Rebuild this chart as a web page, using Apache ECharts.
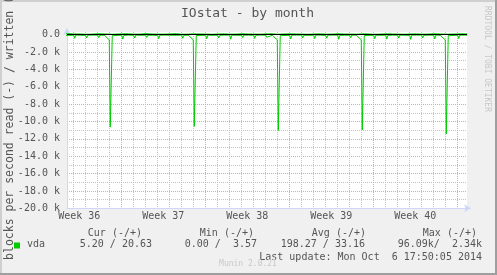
<!DOCTYPE html>
<html><head><meta charset="utf-8">
<script src="https://cdn.jsdelivr.net/npm/echarts@6/dist/echarts.min.js"></script>
<style>html,body{margin:0;padding:0;background:#f0f0f0}#c{width:497px;height:275px}</style>
</head><body><div id="c"></div><script>
// hours relative to Monday (start of Week 37) 00:00
const hours = [
-119,-117,-115,-106, -95,-93,-91,-82, -71,-69,-67,-58, -47,-45,-43,-34, -24,-22,-20,-18,
1,3,5,14, 25,27,29,38, 49,51,53,62, 73,75,77,86, 97,99,101,110, 121,123,125,134,
144,146,148,150, 169,171,173,182, 193,195,197,206, 217,219,221,230, 241,243,245,254,
265,267,269,278, 289,291,293,302, 312,314,316,318, 337,339,341,350, 361,363,365,374,
385,387,389,398, 409,411,413,422, 433,435,437,446, 457,459,461,470, 480,482,484,486,
505,507,509,518, 529,531,533,542, 553,555,557,566, 577,579,581,590, 601,603,605,614,
625,627,629,638, 648,650,652,654, 673,675,677,686, 692
];
// blocks per second read (drawn negative)
const readBlocks = [
60,80,70,90, 70,420,60,80, 90,380,70,60, 60,350,80,70, 600,10650,10650,120,
70,520,90,60, 80,400,60,90, 60,330,80,70, 90,470,70,60, 70,300,60,80, 60,420,90,70,
600,10580,10580,110, 80,480,60,90, 70,390,80,60, 60,530,70,80, 90,350,60,70,
70,440,80,60, 60,300,90,80, 600,11050,11050,120, 80,510,70,60, 60,380,80,90,
70,460,60,70, 90,420,70,60, 60,540,80,80, 70,360,60,70, 600,10980,10980,110,
80,470,70,90, 60,520,90,70, 70,400,60,80, 90,560,70,60, 60,380,80,70,
70,500,60,90, 600,11440,11440,120, 80,450,70,60, 70
];
// blocks per second written (drawn positive)
const writeBlocks = [
60,90,40,110, 80,140,50,70, 40,120,90,60, 100,160,50,80, 70,180,60,40,
90,130,40,100, 50,150,80,60, 110,90,40,70, 60,170,90,50, 80,120,60,110, 40,200,70,60,
90,140,50,80, 60,110,100,40, 70,160,50,90, 50,130,80,60, 100,150,40,70,
60,120,90,50, 80,180,60,100, 40,140,70,60, 90,110,50,80, 60,160,100,40,
70,130,60,90, 50,150,80,60, 100,120,40,70, 60,170,90,50, 80,140,60,100,
40,110,70,60, 90,160,50,80, 60,130,100,40, 70,150,60,90, 50,120,80,60,
100,180,40,70, 60,140,90,50, 80,110,60,100, 70
];
const weekLabels = ['Week 36','Week 37','Week 38','Week 39','Week 40'];
const weekMidHours = [-84,84,252,420,588];
const weekStartHours = [0,168,336,504,672];
const dayHours = [-96,-72,-48,-24,0,24,48,72,96,120,144,168,192,216,240,264,288,312,336,360,384,408,432,456,480,504,528,552,576,600,624,648,672];
const yTickValues = [-20000,-18000,-16000,-14000,-12000,-10000,-8000,-6000,-4000,-2000,0];
const yTickLabels = ['-20.0 k','-18.0 k','-16.0 k','-14.0 k','-12.0 k','-10.0 k','-8.0 k','-6.0 k','-4.0 k','-2.0 k','0.0'];
const yMinorValues = [-19000,-17000,-15000,-13000,-11000,-9000,-7000,-5000,-3000,-1000];
const titleText = 'IOstat - by month';
const yAxisTitle = 'blocks per second read (-) / written (+)';
const seriesName = 'vda';
const statHeaders = ['Cur (-/+)','Min (-/+)','Avg (-/+)','Max (-/+)'];
const statValues = ['5.20 / 20.63','0.00 /  3.57','198.27 / 33.16','96.09k/  2.34k'];
const lastUpdate = 'Last update: Mon Oct  6 17:50:05 2014';
const watermark = 'Munin 2.0.21';
const sideText = 'RRDTOOL / TOBI OETIKER';

const MONO = 'DejaVu Sans Mono';
const FONT_C = '#555555';
const AXIS_C = '#CFD6F8';
const GRID_C = '#c4c4c4';
const MGRID_C = '#eea0a0';
const XMIN = -108.5, XMAX = 691.5, YMIN = -20000, YMAX = 300;

function txt(text, x, y, size, color, align, valign, rot) {
  return {type:'text', x:x, y:y, rotation: rot||0, silent:true,
    style:{text:text, fontSize:size, fontFamily:MONO, fill:color,
      align:align, verticalAlign:valign, textAlign:align, textVerticalAlign:valign}};
}
const headerRight = [142,254,366,477];
const valueRight = [152,257,365,482];
const elements = [
  {type:'rect', shape:{x:0,y:0,width:497,height:2}, style:{fill:'#cfcfcf'}, silent:true},
  {type:'rect', shape:{x:0,y:0,width:2,height:275}, style:{fill:'#cfcfcf'}, silent:true},
  {type:'rect', shape:{x:0,y:273,width:497,height:2}, style:{fill:'#9e9e9e'}, silent:true},
  {type:'rect', shape:{x:495,y:0,width:2,height:275}, style:{fill:'#9e9e9e'}, silent:true},
  txt(titleText, 247.5, 13.5, 13, FONT_C, 'center', 'middle'),
  txt(yAxisTitle, 10.5, 121.5, 11.5, FONT_C, 'center', 'middle', Math.PI/2),
  txt(sideText, 487, 59, 8, '#c8c8c8', 'center', 'middle', -Math.PI/2),
  {type:'rect', shape:{x:14,y:242.5,width:6,height:6}, style:{fill:'#00cc00'}, silent:true},
  txt(seriesName, 27, 244.5, 10, FONT_C, 'left', 'middle'),
  txt(lastUpdate, 482, 257, 10, FONT_C, 'right', 'middle'),
  txt(watermark, 248, 264, 8, '#c8c8c8', 'center', 'middle')
];
statHeaders.forEach((h,i)=>elements.push(txt(h, headerRight[i], 233.5, 10, FONT_C, 'right', 'middle')));
statValues.forEach((v,i)=>elements.push(txt(v, valueRight[i], 244.5, 10, FONT_C, 'right', 'middle')));

function gridAxisX(values, color) {
  return {type:'value', min:XMIN, max:XMAX, position:'bottom',
    axisLine:{show:false}, axisTick:{show:false, customValues:values},
    axisLabel:{show:false, customValues:values},
    splitLine:{show:true, lineStyle:{color:color, width:1, type:[1,1]}}};
}
const chart = echarts.init(document.getElementById('c'), null, {renderer:'canvas'});
chart.setOption({
  animation:false,
  backgroundColor:'#f0f0f0',
  grid:{left:67, right:30, top:32, bottom:66.7, show:true, backgroundColor:'#ffffff', borderWidth:0, containLabel:false},
  xAxis:[
    gridAxisX(dayHours, GRID_C),
    gridAxisX(weekStartHours, MGRID_C),
    {type:'value', min:XMIN, max:XMAX, position:'bottom',
      axisLine:{show:true, onZero:false, lineStyle:{color:AXIS_C, width:1}, symbol:['none','arrow'], symbolSize:[6,7], symbolOffset:[0,4]},
      axisTick:{show:false, customValues:weekMidHours},
      axisLabel:{show:true, customValues:weekMidHours, margin:3, fontSize:10, fontFamily:MONO, color:FONT_C,
        formatter:(v)=>{const i = weekMidHours.indexOf(v); return i>=0 ? weekLabels[i] : '';}},
      splitLine:{show:false}}
  ],
  yAxis:[
    {type:'value', min:YMIN, max:YMAX, position:'left',
      axisLine:{show:true, onZero:false, lineStyle:{color:AXIS_C, width:1}, symbol:['none','arrow'], symbolSize:[6,7], symbolOffset:[0,4]},
      axisTick:{show:false, customValues:yTickValues},
      axisLabel:{show:true, customValues:yTickValues, margin:7, fontSize:10, fontFamily:MONO, color:FONT_C,
        formatter:(v)=>{const i = yTickValues.indexOf(v); return i>=0 ? yTickLabels[i] : '';}},
      splitLine:{show:true, lineStyle:{color:MGRID_C, width:1, type:[1,1]}}},
    {type:'value', min:YMIN, max:YMAX, position:'left',
      axisLine:{show:false}, axisTick:{show:false, customValues:yMinorValues},
      axisLabel:{show:false, customValues:yMinorValues},
      splitLine:{show:true, lineStyle:{color:GRID_C, width:1, type:[1,1]}}}
  ],
  series:[
    {name:seriesName+' read', type:'line', xAxisIndex:0, yAxisIndex:0, showSymbol:false, symbol:'none', silent:true,
      lineStyle:{color:'#00cc00', width:1}, itemStyle:{color:'#00cc00'},
      data: hours.map((h,i)=>[h, -readBlocks[i]])},
    {name:seriesName+' write', type:'line', xAxisIndex:0, yAxisIndex:0, showSymbol:false, symbol:'none', silent:true,
      lineStyle:{color:'#00cc00', width:1}, itemStyle:{color:'#00cc00'},
      data: hours.map((h,i)=>[h, writeBlocks[i]]),
      markLine:{silent:true, symbol:'none', label:{show:false}, lineStyle:{color:'#000000', width:1, type:'solid'}, data:[{yAxis:0}]}}
  ],
  graphic:{elements:elements}
});
</script></body></html>
